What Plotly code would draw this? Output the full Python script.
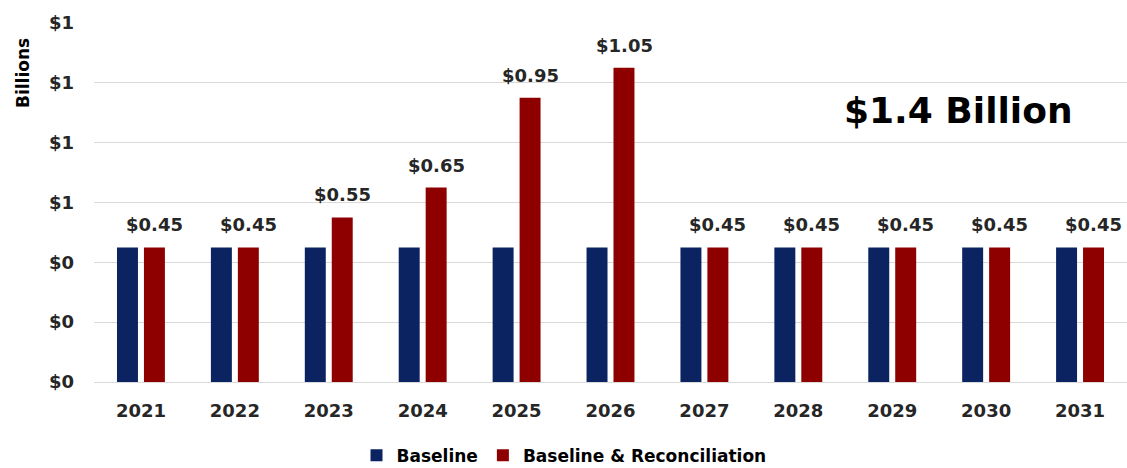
import plotly.graph_objects as go

years = ["2021", "2022", "2023", "2024", "2025", "2026", "2027", "2028", "2029", "2030", "2031"]
baseline = [0.45, 0.45, 0.45, 0.45, 0.45, 0.45, 0.45, 0.45, 0.45, 0.45, 0.45]
reconciliation = [0.45, 0.45, 0.55, 0.65, 0.95, 1.05, 0.45, 0.45, 0.45, 0.45, 0.45]
ytick_vals = [0, 0.2, 0.4, 0.6, 0.8, 1.0, 1.2]
total_label = "$1.4 Billion"

FONT = "DejaVu Sans, Verdana, sans-serif"
TXT = "#262626"

fig = go.Figure()
fig.add_trace(go.Bar(
    x=years, y=baseline, name="Baseline",
    marker=dict(color="#0B2360", line=dict(width=0)),
))
fig.add_trace(go.Bar(
    x=years, y=reconciliation, name="Baseline & Reconciliation",
    marker=dict(color="#8E0000", line=dict(width=0)),
))

annotations = []
for i, v in enumerate(reconciliation):
    annotations.append(dict(
        x=i, y=v, xref="x", yref="y", text=f"${v:.2f}", showarrow=False,
        xanchor="center", yanchor="bottom", xshift=13.5, yshift=10,
        font=dict(family=FONT, size=18, color=TXT, weight="bold"),
    ))
annotations += [
    dict(text="Billions", xref="paper", yref="paper", x=-0.068, y=0.86,
         xanchor="center", yanchor="middle", textangle=-90, showarrow=False,
         font=dict(family=FONT, size=17, color="#000000", weight="bold")),
    dict(text=total_label, xref="paper", yref="paper", x=0.837, y=0.757,
         xanchor="center", yanchor="middle", showarrow=False,
         font=dict(family=FONT, size=36, color="#000000", weight="bold")),
]

fig.update_layout(
    width=1127, height=468,
    margin=dict(l=94, r=0, t=23, b=86, autoexpand=False),
    paper_bgcolor="white", plot_bgcolor="white",
    barmode="group", bargap=0.426, bargroupgap=0.222,
    font=dict(family=FONT, color=TXT),
    showlegend=True,
    legend=dict(
        orientation="h", x=0.455, xanchor="center", y=-0.205, yanchor="middle",
        font=dict(family=FONT, size=17, color="#000000", weight="bold"),
        traceorder="normal", itemwidth=30,
    ),
    xaxis=dict(
        type="category", range=[-0.5, 10.5],
        showgrid=False, showline=True, linecolor="#d9d9d9", linewidth=1,
        ticks="", tickfont=dict(family=FONT, size=18, color=TXT, weight="bold"),
        ticklabelstandoff=12,
    ),
    yaxis=dict(
        range=[0, 1.2], tickvals=ytick_vals, tickformat="$.0f",
        showgrid=True, gridcolor="#d9d9d9", gridwidth=1, zeroline=False,
        ticks="", tickfont=dict(family=FONT, size=18, color=TXT, weight="bold"),
        ticklabelstandoff=19,
    ),
    annotations=annotations,
)

fig.write_html("out.html", config={"displayModeBar": False},
               post_script="document.body.style.margin='0';")
